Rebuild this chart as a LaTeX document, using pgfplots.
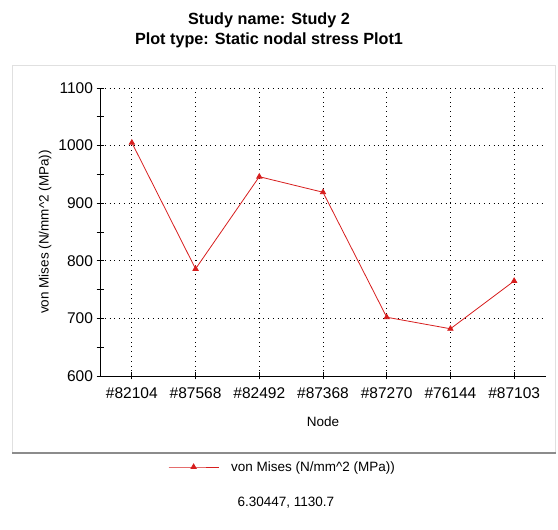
\documentclass[border=0pt]{standalone}
\usepackage{fontspec}
\setmainfont{Liberation Sans}
\usepackage{pgfplots}
\pgfplotsset{compat=1.18}
\definecolor{plotred}{RGB}{215,30,30}
\begin{document}
\begin{tikzpicture}[x=1bp,y=1bp]
\path (0,0) rectangle (558,530);
% panel frame
\draw[black!12, line width=0.8bp] (12,77) rectangle (555,465);
\draw[black!45, line width=1.6bp] (12,77) -- (556,77);
% title
\node[anchor=base, font=\fontsize{16.2bp}{18bp}\selectfont\bfseries] at (269,505) {Study name: Study 2};
\node[anchor=base, font=\fontsize{16.2bp}{18bp}\selectfont\bfseries] at (269,485) {Plot type: Static nodal stress Plot1};
\begin{axis}[
  at={(100bp,154bp)}, anchor=south west,
  scale only axis, width=446bp, height=288bp,
  xmin=-0.5, xmax=6.5, ymin=600, ymax=1100,
  axis x line*=bottom, axis y line*=left,
  axis line style={black, line width=0.9bp},
  xtick={0,1,2,3,4,5,6},
  xticklabels={\#82104,\#87568,\#82492,\#87368,\#87270,\#76144,\#87103},
  ytick={600,700,800,900,1000,1100},
  minor y tick num=1,
  tick align=center,
  major tick length=7bp, minor tick length=7bp,
  every tick/.style={black, line width=0.8bp},
  grid=major,
  major grid style={black, line width=0.8bp, dash pattern=on 0.8bp off 4bp},
  /pgf/number format/assume math mode=true,
  /pgf/number format/1000 sep={},
  tick label style={font=\fontsize{15.5bp}{17bp}\selectfont},
  x tick label style={yshift=-5bp},
  xlabel={Node},
  ylabel={von Mises (N/mm\textasciicircum 2 (MPa))},
  label style={font=\fontsize{13.5bp}{16bp}\selectfont},
  x label style={at={(axis description cs:0.5,-0.16)}, anchor=center},
  y label style={at={(axis description cs:-0.123,0.5)}, anchor=center},
  legend style={draw=none, fill=none, inner sep=0pt, at={(axis description cs:0.1525,-0.316)}, anchor=west, font=\fontsize{13.5bp}{16bp}\selectfont, legend cell align=left, /tikz/every odd column/.append style={column sep=10bp}},
  legend image code/.code={\draw[mark repeat=2,mark phase=2,#1] plot coordinates {(0bp,0bp) (25bp,0bp) (50bp,0bp)};},
  clip=false
]
\addplot[plotred, line width=0.8bp, mark=triangle*, mark size=3bp, mark options={fill=plotred, draw=plotred}] coordinates {
(0,1005) (1,786) (2,946) (3,919) (4,702) (5,682) (6,765)
};
\addlegendentry{von Mises (N/mm\textasciicircum 2 (MPa))}
\end{axis}
\node[anchor=west, font=\fontsize{13.5bp}{16bp}\selectfont] at (234,27) {6.30447, 1130.7};
\end{tikzpicture}
\end{document}
